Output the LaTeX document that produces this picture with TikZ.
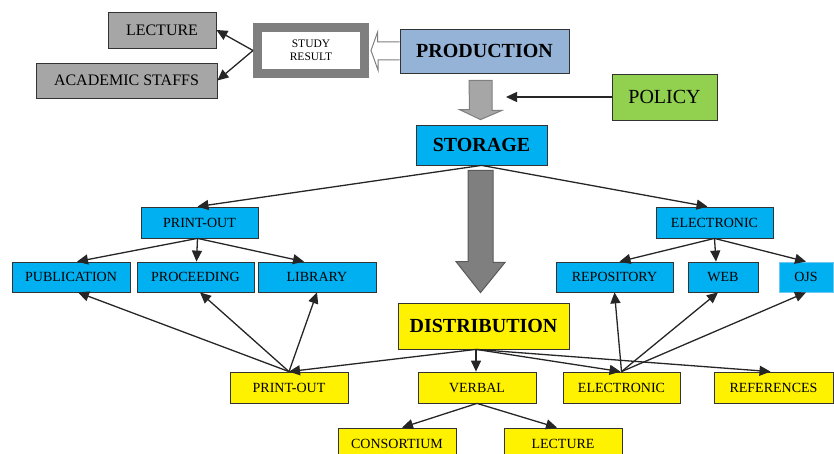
\documentclass[tikz,border=0pt]{standalone}
\usepackage{fontspec}
\setmainfont{Liberation Serif}
\usepackage{xcolor}
\usetikzlibrary{arrows.meta, positioning}
\definecolor{boxgray}{RGB}{166,166,166}
\definecolor{prodblue}{RGB}{149,179,215}
\definecolor{polgreen}{RGB}{146,208,80}
\definecolor{skyblue}{RGB}{0,176,240}
\definecolor{ojsedge}{RGB}{110,200,240}
\definecolor{arrgray}{RGB}{127,127,127}
\definecolor{darkgray}{RGB}{89,89,89}

\tikzset{
  box/.style={draw=black!80, line width=0.8pt, inner sep=0pt, minimum height=31},
  graybox/.style={box, fill=boxgray, font=\fontsize{16}{18}\selectfont},
  bluebox/.style={box, fill=skyblue, minimum width=117, font=\fontsize{14}{16}\selectfont},
  yellowbox/.style={box, fill=yellow, minimum width=118, font=\fontsize{14}{16}\selectfont},
  headbox/.style={box, font=\bfseries\fontsize{20}{24}\selectfont},
  arr/.style={-{Triangle[length=11pt,width=10pt]}, line width=1.3pt, draw=black!85},
  hollow/.style={draw=arrgray, fill=white, line width=1pt},
  blocklight/.style={draw=arrgray, fill=boxgray, line width=1pt},
  blockdark/.style={draw=darkgray, fill=arrgray, line width=1pt}
}

\begin{document}
\begin{tikzpicture}[x=1pt, y=-1pt]
  \useasboundingbox (0,0) rectangle (834,454);

  % top part
  \node[graybox, minimum width=108, minimum height=36] (lecA) at (162,30) {LECTURE};
  \node[graybox, minimum width=181, minimum height=35] (staff) at (126.5,80.5) {ACADEMIC STAFFS};
  \node[draw=arrgray, line width=9pt, fill=white, minimum width=107, minimum height=46,
        inner sep=0pt, align=center, font=\fontsize{11.5}{12.5}\selectfont] (study) at (311,50.5) {STUDY\\RESULT};
  \node[headbox, fill=prodblue, minimum width=169, minimum height=44] (prod) at (484.5,51) {PRODUCTION};
  \node[box, fill=polgreen, minimum width=105, minimum height=46, font=\fontsize{20}{24}\selectfont] (policy) at (664.5,97) {POLICY};
  \node[headbox, fill=skyblue, minimum width=131, minimum height=40] (storage) at (481.5,145) {STORAGE};

  \draw[arr] (study.west) -- (lecA.east);
  \draw[arr] (study.west) -- (staff.east);
  \filldraw[hollow] ([yshift=9]prod.west) -- ++(-22,0) -- ++(0,-10) -- ([xshift=2]study.east)
    -- ++(7,19.5) -- ++(0,-10) -- ([yshift=-9]prod.west);

  \coordinate (pA) at ([xshift=-4,yshift=-7]prod.south);
  \coordinate (pB) at ([xshift=-1,yshift=5]storage.north);
  \filldraw[blocklight] ([xshift=-11.5]pA) -- ([xshift=11.5]pA) -- ++(0,30) -- ++(10,0) -- (pB)
    -- ++(-21,-10) -- ++(10,0) -- cycle;
  \coordinate (polTip) at (506,97);
  \draw[arr] (policy.west) -- (polTip);

  % storage branches
  \node[bluebox] (printE) at (199.5,222.5) {PRINT-OUT};
  \node[bluebox] (elecE) at (714.5,222.5) {ELECTRONIC};
  \node[bluebox, minimum width=118, minimum height=30] (pub) at (71,277) {PUBLICATION};
  \node[bluebox, minimum height=30] (proc) at (195.5,277) {PROCEEDING};
  \node[bluebox, minimum width=118, minimum height=30] (lib) at (317,277) {LIBRARY};
  \node[bluebox, minimum height=30] (repo) at (614.5,277) {REPOSITORY};
  \node[bluebox, minimum width=70, minimum height=30] (web) at (723,277) {WEB};
  \node[bluebox, draw=ojsedge, minimum width=54, minimum height=30] (ojs) at (806,277) {OJS};

  \draw[arr] (storage.south) -- ([xshift=-2]printE.north);
  \draw[arr] (storage.south) -- ([xshift=-7]elecE.north);
  \draw[arr] ([xshift=-2]printE.south) -- ([xshift=6]pub.north);
  \draw[arr] ([xshift=-2]printE.south) -- ([xshift=1]proc.north);
  \draw[arr] ([xshift=-2]printE.south) -- ([xshift=-13]lib.north);
  \draw[arr] (elecE.south) -- ([xshift=5]repo.north);
  \draw[arr] (elecE.south) -- ([xshift=-7]web.north);
  \draw[arr] (elecE.south) -- (ojs.north);

  \coordinate (sA) at ([xshift=-1,yshift=-5]storage.south);

  % distribution
  \node[headbox, fill=yellow, minimum width=171, minimum height=46] (dist) at (483.5,326) {DISTRIBUTION};
  \coordinate (sB) at ([xshift=-3,yshift=10]dist.north);
  \filldraw[blockdark] ([xshift=-12.5]sA) -- ([xshift=12.5]sA) -- ++(0,92) -- ++(12,0) -- (sB)
    -- ++(-24.5,-31) -- ++(12,0) -- cycle;

  \node[yellowbox] (printY) at (289,387.5) {PRINT-OUT};
  \node[yellowbox] (verbal) at (477,387.5) {VERBAL};
  \node[yellowbox, minimum width=117] (elecY) at (621.5,387.5) {ELECTRONIC};
  \node[yellowbox, minimum width=119] (refs) at (773.5,387.5) {REFERENCES};
  \node[yellowbox] (consort) at (397,443.5) {CONSORTIUM};
  \node[yellowbox] (lecB) at (563,443.5) {LECTURE};

  \coordinate (dS) at ([xshift=-7.5]dist.south);
  \draw[arr] (dS) -- (printY.north);
  \draw[arr] (dS) -- ([xshift=-1]verbal.north);
  \draw[arr] (dS) -- ([xshift=-1]elecY.north);
  \draw[arr] (dS) -- ([xshift=-3]refs.north);
  \draw[arr] (printY.north) -- ([xshift=7]pub.south);
  \draw[arr] (printY.north) -- ([xshift=4.5]proc.south);
  \draw[arr] (printY.north) -- (lib.south);
  \draw[arr] (elecY.north) -- (repo.south);
  \draw[arr] (elecY.north) -- ([xshift=-5]web.south);
  \draw[arr] (elecY.north) -- (ojs.south);
  \draw[arr] (verbal.south) -- ([xshift=5]consort.north);
  \draw[arr] (verbal.south) -- ([xshift=-6]lecB.north);
\end{tikzpicture}
\end{document}
